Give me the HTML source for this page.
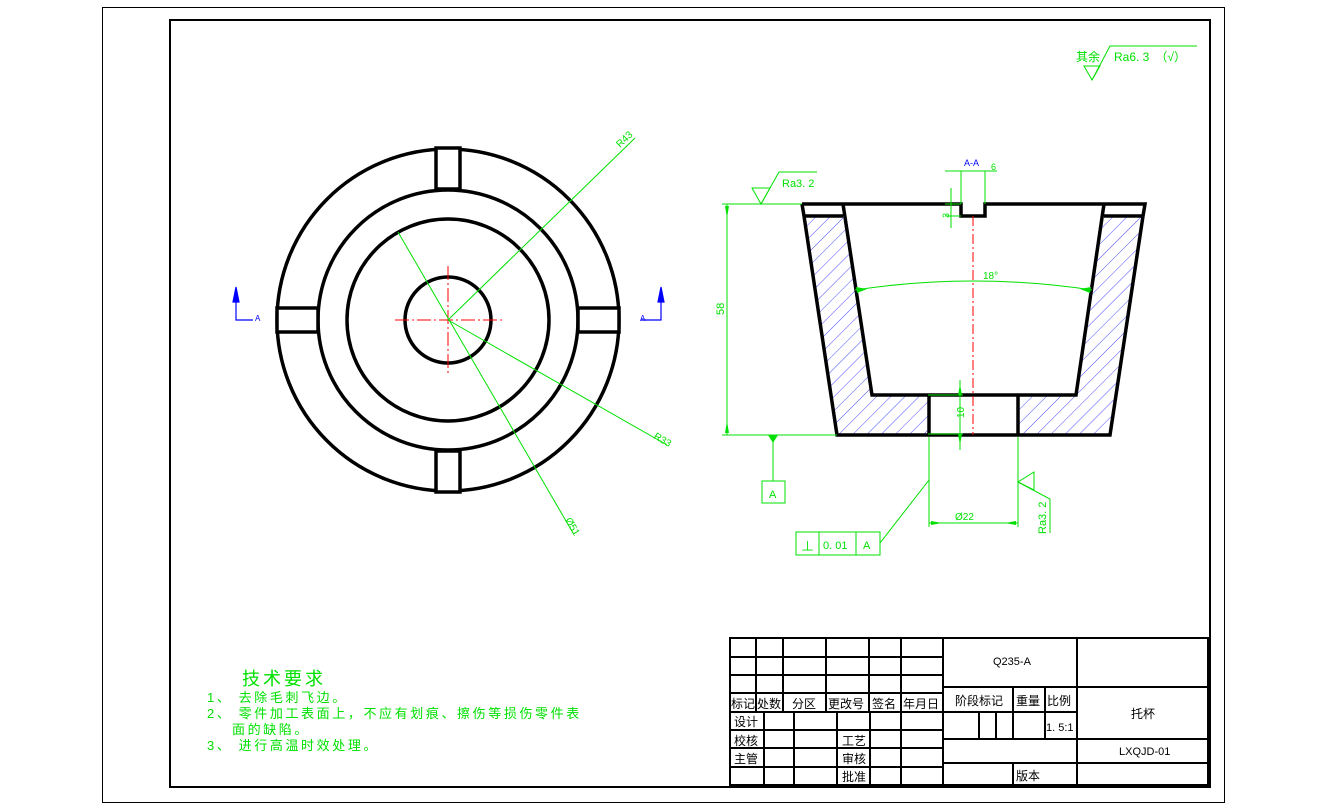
<!DOCTYPE html>
<html><head><meta charset="utf-8"><style>
html,body{margin:0;padding:0;background:#fff;}
svg{display:block;}
text{font-family:"Liberation Sans","Noto Sans CJK SC",sans-serif;}
.g{fill:#00e000;}
.t{fill:#000;font-size:12px;}
</style></head><body>
<svg width="1327" height="809" viewBox="0 0 1327 809" xmlns="http://www.w3.org/2000/svg">
<defs>
<pattern id="h" patternUnits="userSpaceOnUse" width="10" height="10" patternTransform="rotate(45)">
<line x1="0" y1="0" x2="0" y2="10" stroke="#2020ff" stroke-width="0.8"/>
</pattern>
</defs>
<rect width="1327" height="809" fill="#fff"/>
<rect x="102.5" y="7.5" width="1122" height="795" fill="none" stroke="#000" stroke-width="1"/>
<rect x="170" y="20" width="1040" height="767" fill="none" stroke="#000" stroke-width="2"/>

<g fill="none" stroke="#000" stroke-width="3.5">
<circle cx="448" cy="320" r="171"/>
<circle cx="448" cy="320" r="130"/>
<circle cx="448" cy="320" r="101"/>
<circle cx="448" cy="320" r="43"/>
</g>
<g fill="#fff" stroke="#000" stroke-width="3.5">
<rect x="436" y="148" width="24" height="41"/>
<rect x="436" y="451" width="24" height="41"/>
<rect x="277" y="308" width="41" height="24"/>
<rect x="578" y="308" width="41" height="24"/>
</g>
<g stroke="#ff0000" stroke-width="1" stroke-dasharray="14,3,2,3">
<line x1="395" y1="320" x2="502" y2="320"/>
<line x1="448" y1="266" x2="448" y2="373"/>
</g>
<g stroke="#00e000" stroke-width="1">
<line x1="448" y1="320" x2="635" y2="138"/>
<line x1="448" y1="320" x2="667" y2="445"/>
<line x1="398" y1="232" x2="573" y2="533"/>
</g>
<text class="g" font-size="10" transform="translate(620,148) rotate(-44)">R43</text>
<text class="g" font-size="10" transform="translate(653,438) rotate(30)">R33</text>
<text class="g" font-size="10" transform="translate(565,520) rotate(60)">Ø51</text>
<g stroke="#0000ff" stroke-width="1.2" fill="#0000ff">
<polyline points="236,300 236,320 253,320" fill="none"/>
<polygon points="233,302 239,302 236,287"/>
<polyline points="661,300 661,320 641,320" fill="none"/>
<polygon points="658,302 664,302 661,287"/>
</g>
<text x="255" y="321" font-size="8" fill="#0000ff">A</text>
<text x="640" y="321" font-size="8" fill="#0000ff">A</text>

<polygon points="804,216 837,435 929,435 929,395 872,395 843,216" fill="url(#h)"/>
<polygon points="1104,216 1076,395 1018,395 1018,435 1110,435 1143,216" fill="url(#h)"/>
<g fill="none" stroke="#000" stroke-width="3.5" stroke-linejoin="miter">
<polyline points="802,204 961,204 961,216 985,216 985,204 1145,204 1143,216 1110,435 837,435 804,216 802,204"/>
<line x1="804" y1="216" x2="843" y2="216"/>
<line x1="1104" y1="216" x2="1143" y2="216"/>
<polyline points="843,204 872,395 1076,395 1104,204"/>
<line x1="929" y1="395" x2="929" y2="435"/>
<line x1="1018" y1="395" x2="1018" y2="435"/>
</g>
<line x1="973" y1="216" x2="973" y2="435" stroke="#ff0000" stroke-width="1" stroke-dasharray="10,3,2,3"/>

<g stroke="#00e000" stroke-width="1" fill="none">
<line x1="722" y1="204" x2="802" y2="204"/>
<line x1="722" y1="435" x2="837" y2="435"/>
<line x1="727" y1="204" x2="727" y2="435"/>
<polygon points="752,188 770,188 761,204"/>
<polyline points="761,204 779,172 817,172"/>
<line x1="773" y1="435" x2="773" y2="481"/>
<rect x="762" y="481" width="23" height="22"/>
<line x1="929" y1="437" x2="929" y2="527"/>
<line x1="1018" y1="437" x2="1018" y2="527"/>
<line x1="929" y1="523" x2="1018" y2="523"/>
<line x1="929" y1="480" x2="880" y2="543"/>
<rect x="796" y="532" width="84" height="23"/>
<line x1="819" y1="532" x2="819" y2="555"/>
<line x1="856" y1="532" x2="856" y2="555"/>
<polygon points="1034,472 1018,482 1034,490"/>
<polyline points="1018,482 1050,499 1050,533"/>
<line x1="960" y1="380" x2="960" y2="450"/>
<line x1="928" y1="395" x2="963" y2="395"/>
<line x1="928" y1="434" x2="963" y2="434"/>
<path d="M855,290 Q973,272 1092,290"/>
<line x1="945" y1="171" x2="997" y2="171"/>
<line x1="961" y1="171" x2="961" y2="204"/>
<line x1="985" y1="171" x2="985" y2="204"/>
<line x1="951" y1="188" x2="951" y2="228"/>
<line x1="945" y1="204" x2="961" y2="204"/>
<line x1="945" y1="216" x2="961" y2="216"/>
<polygon points="1084,66 1100,66 1092,80"/>
<polyline points="1092,80 1110,46 1197,46"/>
</g>
<g fill="#00e000">
<polygon points="725,206 729,206 727,218"/>
<polygon points="725,433 729,433 727,421"/>
<polygon points="768,435 778,435 773,443"/>
<polygon points="931,521 931,525 942,523"/>
<polygon points="1016,521 1016,525 1005,523"/>
<polygon points="958,395 962,395 960,384"/>
<polygon points="958,434 962,434 960,445"/>
<polygon points="856,287 857,293 867,289"/>
<polygon points="1091,287 1090,293 1080,289"/>
</g>
<text class="g" font-size="11" transform="translate(724,315) rotate(-90)">58</text>
<text class="g" x="782" y="187" font-size="11">Ra3. 2</text>
<text class="g" x="769" y="498" font-size="11">A</text>
<text class="g" x="955" y="520" font-size="10">Ø22</text>
<text class="g" x="801" y="551" font-size="13">⊥</text>
<text class="g" x="823" y="549" font-size="11">0. 01</text>
<text class="g" x="863" y="549" font-size="11">A</text>
<text class="g" font-size="11" transform="translate(1046,534) rotate(-90)">Ra3. 2</text>
<text class="g" font-size="10" transform="translate(964,418) rotate(-90)">10</text>
<text class="g" x="983" y="279" font-size="10">18°</text>
<text class="g" font-size="9" transform="translate(949,218) rotate(-90)">3</text>
<text x="964" y="166" font-size="9" fill="#0000ff">A-A</text>
<text class="g" x="991" y="170" font-size="9">6</text>
<text class="g" x="1076" y="61" font-size="12">其余</text>
<text class="g" x="1114" y="61" font-size="12">Ra6. 3　（√）</text>

<text class="g" x="242" y="685" font-size="18" letter-spacing="3">技术要求</text>
<text class="g" x="207" y="702" font-size="13" letter-spacing="2.6">1、 去除毛刺飞边。</text>
<text class="g" x="207" y="718" font-size="13" letter-spacing="2.6">2、 零件加工表面上，不应有划痕、擦伤等损伤零件表</text>
<text class="g" x="232" y="734" font-size="13" letter-spacing="2.6">面的缺陷。</text>
<text class="g" x="207" y="750" font-size="13" letter-spacing="2.6">3、 进行高温时效处理。</text>

<g stroke="#000" stroke-width="2" fill="none">
<rect x="730" y="638" width="478" height="147"/>
<line x1="730" y1="657" x2="943" y2="657"/>
<line x1="730" y1="675" x2="943" y2="675"/>
<line x1="730" y1="693" x2="943" y2="693"/>
<line x1="730" y1="712" x2="943" y2="712"/>
<line x1="730" y1="730" x2="943" y2="730"/>
<line x1="730" y1="748" x2="943" y2="748"/>
<line x1="730" y1="767" x2="943" y2="767"/>
<line x1="756" y1="638" x2="756" y2="712"/>
<line x1="783" y1="638" x2="783" y2="712"/>
<line x1="826" y1="638" x2="826" y2="712"/>
<line x1="869" y1="638" x2="869" y2="712"/>
<line x1="901" y1="638" x2="901" y2="785"/>
<line x1="764" y1="712" x2="764" y2="785"/>
<line x1="794" y1="712" x2="794" y2="785"/>
<line x1="837" y1="712" x2="837" y2="785"/>
<line x1="870" y1="712" x2="870" y2="785"/>
<line x1="943" y1="638" x2="943" y2="785"/>
<line x1="1077" y1="638" x2="1077" y2="785"/>
<line x1="943" y1="687" x2="1208" y2="687"/>
<line x1="943" y1="712" x2="1077" y2="712"/>
<line x1="943" y1="739" x2="1208" y2="739"/>
<line x1="943" y1="763" x2="1208" y2="763"/>
<line x1="1013" y1="687" x2="1013" y2="739"/>
<line x1="1045" y1="687" x2="1045" y2="739"/>
<line x1="979" y1="712" x2="979" y2="739"/>
<line x1="996" y1="712" x2="996" y2="739"/>
<line x1="1013" y1="763" x2="1013" y2="785"/>
</g>
<g class="t">
<text x="731" y="708" font-size="12">标记</text>
<text x="757" y="708" font-size="12">处数</text>
<text x="792" y="708" font-size="12">分区</text>
<text x="828" y="708" font-size="12">更改号</text>
<text x="872" y="708" font-size="12">签名</text>
<text x="903" y="708" font-size="12">年月日</text>
<text x="734" y="726" font-size="12">设计</text>
<text x="734" y="745" font-size="12">校核</text>
<text x="734" y="763" font-size="12">主管</text>
<text x="842" y="745" font-size="12">工艺</text>
<text x="842" y="763" font-size="12">审核</text>
<text x="842" y="781" font-size="12">批准</text>
<text x="955" y="705" font-size="12">阶段标记</text>
<text x="1016" y="705" font-size="12">重量</text>
<text x="1047" y="705" font-size="12">比例</text>
<text x="1046" y="731" font-size="11">1. 5:1</text>
<text x="993" y="665" font-size="11">Q235-A</text>
<text x="1131" y="718" font-size="12">托杯</text>
<text x="1119" y="755" font-size="11">LXQJD-01</text>
<text x="1016" y="780" font-size="12">版本</text>
</g>
</svg>
</body></html>
